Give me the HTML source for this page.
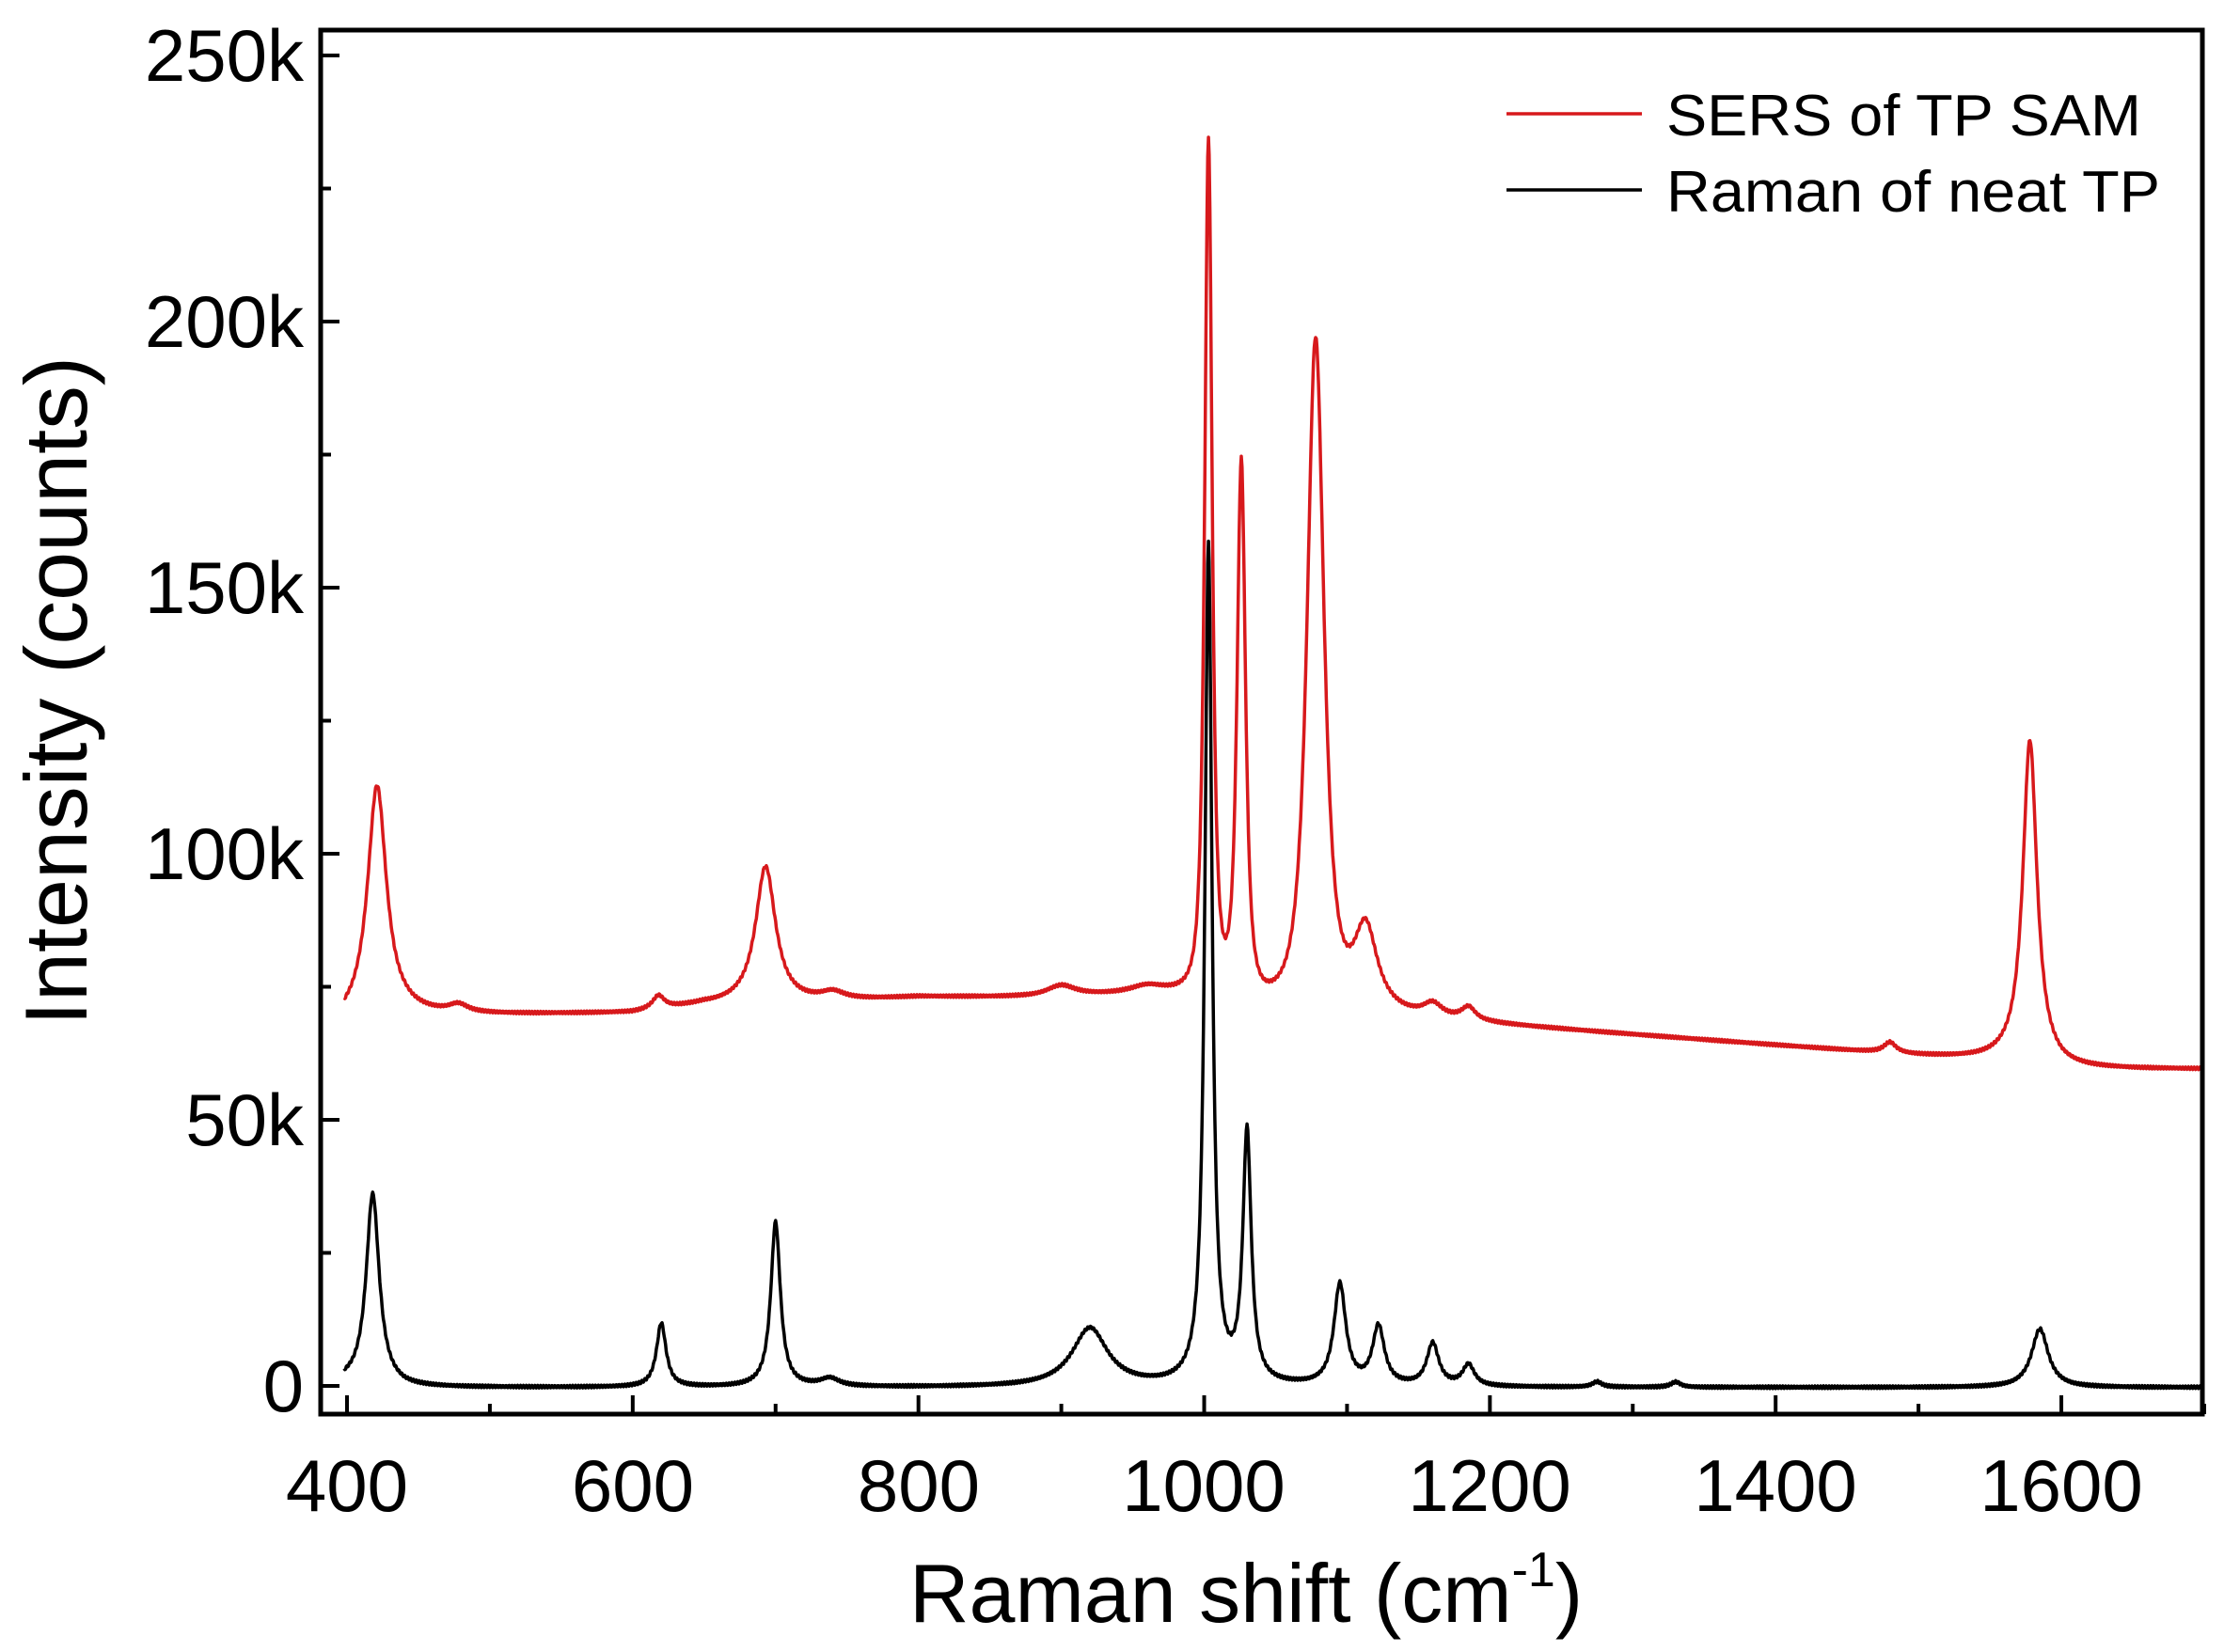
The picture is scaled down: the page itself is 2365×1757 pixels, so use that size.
<!DOCTYPE html>
<html><head><meta charset="utf-8"><style>
html,body{margin:0;padding:0;background:#fff;}
svg{display:block;}
text{font-family:"Liberation Sans",Arial,sans-serif;fill:#000;}
</style></head><body>
<svg id="s" width="2365" height="1757" viewBox="0 0 2365 1757" xmlns="http://www.w3.org/2000/svg">
<rect width="2365" height="1757" fill="#fff"/>
<g id="ticks" stroke="#000" stroke-width="4"></g>
<path id="red" fill="none" stroke="#d7191c" stroke-width="3.5" stroke-linejoin="round"/>
<path id="blk" fill="none" stroke="#000" stroke-width="3.5" stroke-linejoin="round"/>
<rect x="341" y="32" width="2001" height="1472" fill="none" stroke="#000" stroke-width="5"/>
<g font-size="78" text-anchor="end">
<text x="323" y="86">250k</text>
<text x="323" y="369">200k</text>
<text x="323" y="652">150k</text>
<text x="323" y="935">100k</text>
<text x="323" y="1218">50k</text>
<text x="323" y="1501">0</text>
</g>
<g font-size="78" text-anchor="middle">
<text x="369" y="1607">400</text>
<text x="673" y="1607">600</text>
<text x="977" y="1607">800</text>
<text x="1280" y="1607">1000</text>
<text x="1584" y="1607">1200</text>
<text x="1888" y="1607">1400</text>
<text x="2192" y="1607">1600</text>
</g>
<text x="967" y="1725" font-size="88">Raman shift (cm<tspan font-size="52" dy="-38">-1</tspan><tspan dy="38">)</tspan></text>
<text transform="translate(92,735) rotate(-90)" font-size="94" text-anchor="middle" textLength="712" lengthAdjust="spacingAndGlyphs">Intensity (counts)</text>
<line x1="1602" y1="121" x2="1746" y2="121" stroke="#d7191c" stroke-width="3.5"/>
<line x1="1602" y1="202" x2="1746" y2="202" stroke="#000" stroke-width="3.5"/>
<text x="1772" y="144" font-size="62" textLength="505" lengthAdjust="spacingAndGlyphs">SERS of TP SAM</text>
<text x="1772" y="225" font-size="62" textLength="525" lengthAdjust="spacingAndGlyphs">Raman of neat TP</text>
</svg>
<script>
var X=function(v){return 369+(v-400)*1.5192;};
var Y=function(k){return 1474-k*5.66;};
var t=document.getElementById('ticks'),h='';
for(var k=0;k<=250;k+=25){var y=Y(k),L=(k%50==0)?20:11;h+='<line x1="341" y1="'+y+'" x2="'+(341+L)+'" y2="'+y+'"/>';}
for(var v=400;v<=1700;v+=100){var x=X(v),L=(v%200==0)?20:11;h+='<line x1="'+x+'" y1="1504" x2="'+x+'" y2="'+(1504-L)+'"/>';}
t.innerHTML=h;
function interp(p,x){for(var i=0;i<p.length-1;i++){if(x<=p[i+1][0]){var a=p[i],b=p[i+1];return a[1]+(b[1]-a[1])*(x-a[0])/(b[0]-a[0]);}}return p[p.length-1][1];}
function lor(pk,x){var s=0;for(var i=0;i<pk.length;i++){var d=(x-pk[i][0])/pk[i][2],e=pk[i][3]||1;s+=pk[i][1]/Math.pow(1+d*d,e);}return s;}
var rb=[[400,68],[440,69.5],[600,70],[650,71.5],[700,71.5],[800,73],[880,73],[950,73.5],[990,74],[1100,70],[1200,68],[1300,66],[1400,64],[1500,62],[1560,61],[1600,59.5],[1700,59.5]];
var rp=[[421,44,8],[478,1.5,8],[618,2.5,5],[693,26,8.5],[740,1.5,10],[900,2,12],[960,1.5,15],[1003,160,4,1.5],[1026,100,4.5,1.5],[1078,125,9,1.5],[1113,16,10],[1160,2.5,8],[1185,2.5,6],[1480,2,5],[1578,61,6]];
var bb=[[400,0.5],[440,-0.3],[1700,-0.3]];
var bp=[[418,36,5.5],[620,12,4],[700,31,4],[738,1.5,8],[920,11,15],[1003,158,3],[1030,47,3.5],[1095,19,5],[1122,11,5],[1160,8,5],[1185,4,5],[1585,11,7],[1275,1,4],[1330,1,4]];
function path(b,p,x0,x1){var d='';for(var v=x0;v<=x1;v+=0.5){var k=interp(b,v)+lor(p,v)+Math.sin(v*3.1)*0.25;d+=(d?'L':'M')+X(v).toFixed(1)+','+Y(k).toFixed(1);}return d;}
document.getElementById('red').setAttribute('d',path(rb,rp,398,1699));
document.getElementById('blk').setAttribute('d',path(bb,bp,398,1699));
</script>
</body></html>
